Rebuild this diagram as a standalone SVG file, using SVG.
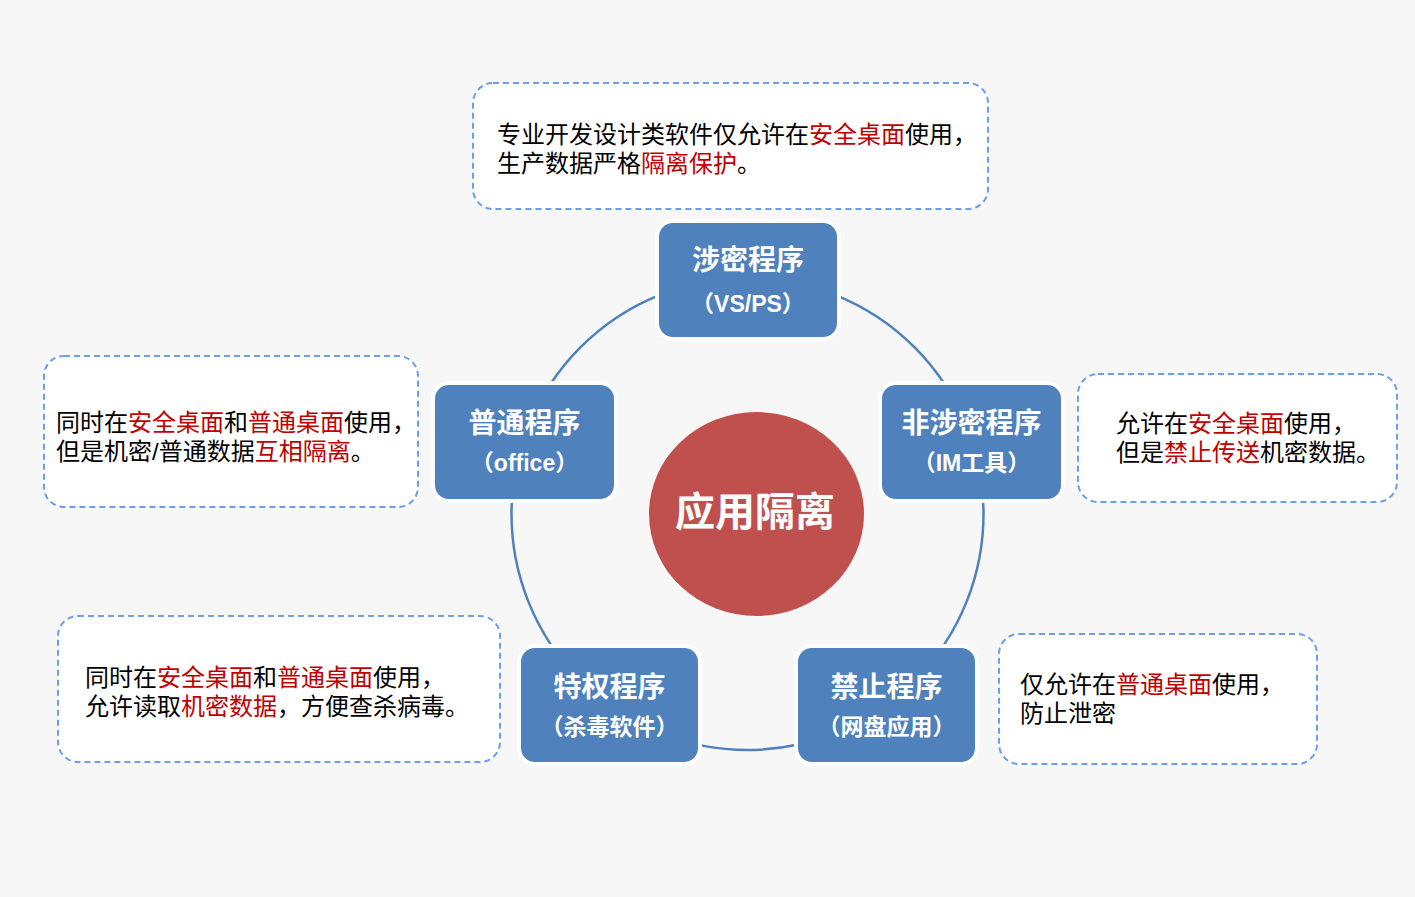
<svg xmlns="http://www.w3.org/2000/svg" width="1415" height="897" viewBox="0 0 1415 897">
  <style>
    .bg { fill: #F7F7F7; }
    .halo { fill: #FFFFFF; }
    .node { fill: #4F81BD; }
    .ttl { font-family: "Liberation Sans", "Noto Sans CJK SC", sans-serif; font-weight: bold; font-size: 28px; fill: #FFFFFF; text-anchor: middle; }
    .sub { font-family: "Liberation Sans", "Noto Sans CJK SC", sans-serif; font-weight: bold; font-size: 23px; fill: #FFFFFF; text-anchor: middle; }
    .call { fill: #FFFFFF; stroke: #6D9EEB; stroke-width: 2; stroke-dasharray: 6 4; }
    .txt { font-family: "Liberation Sans", "Noto Sans CJK SC", sans-serif; font-size: 24px; fill: #000000; }
    .red { fill: #C00000; }
    .ring { fill: none; stroke: #4F81BD; stroke-width: 2.5; }
  </style>
  <rect class="bg" x="0" y="0" width="1415" height="897"/>

  <g id="connectors">
    <circle class="ring" cx="747.5" cy="514" r="236"/>
  </g>

  <g id="center">
    <ellipse cx="756.5" cy="514" rx="107.5" ry="102" fill="#C0504D"/>
    <text x="755" y="526" font-family="Noto Sans CJK SC, sans-serif" font-weight="bold" font-size="40" fill="#FFFFFF" text-anchor="middle">应用隔离</text>
  </g>

  <g id="node-secret">
    <rect class="halo" x="655" y="219" width="186" height="122" rx="18"/>
    <rect class="node" x="659" y="223" width="178" height="114" rx="14"/>
    <text class="ttl" x="748" y="270">涉密程序</text>
    <text class="sub" x="748" y="312">（VS/PS）</text>
  </g>

  <g id="node-normal">
    <rect class="halo" x="431" y="381" width="187" height="122" rx="18"/>
    <rect class="node" x="435" y="385" width="179" height="114" rx="14"/>
    <text class="ttl" x="524.5" y="433">普通程序</text>
    <text class="sub" x="524.5" y="471">（office）</text>
  </g>

  <g id="node-nonsecret">
    <rect class="halo" x="878" y="381" width="187" height="122" rx="18"/>
    <rect class="node" x="882" y="385" width="179" height="114" rx="14"/>
    <text class="ttl" x="971.5" y="433">非涉密程序</text>
    <text class="sub" x="971.5" y="471">（IM工具）</text>
  </g>

  <g id="node-privileged">
    <rect class="halo" x="517" y="644" width="185" height="122" rx="18"/>
    <rect class="node" x="521" y="648" width="177" height="114" rx="14"/>
    <text class="ttl" x="609.5" y="697">特权程序</text>
    <text class="sub" x="609.5" y="735">（杀毒软件）</text>
  </g>

  <g id="node-forbidden">
    <rect class="halo" x="794" y="644" width="185" height="122" rx="18"/>
    <rect class="node" x="798" y="648" width="177" height="114" rx="14"/>
    <text class="ttl" x="886.5" y="697">禁止程序</text>
    <text class="sub" x="886.5" y="735">（网盘应用）</text>
  </g>

  <g id="note-top">
    <rect class="call" x="473" y="83" width="515" height="126" rx="20"/>
    <text class="txt" x="497" y="143">专业开发设计类软件仅允许在<tspan class="red">安全桌面</tspan>使用，</text>
    <text class="txt" x="497" y="172">生产数据严格<tspan class="red">隔离保护</tspan>。</text>
  </g>

  <g id="note-left">
    <rect class="call" x="44" y="356" width="374" height="151" rx="20"/>
    <text class="txt" x="56" y="431">同时在<tspan class="red">安全桌面</tspan>和<tspan class="red">普通桌面</tspan>使用，</text>
    <text class="txt" x="56" y="460">但是机密/普通数据<tspan class="red">互相隔离</tspan>。</text>
  </g>

  <g id="note-right">
    <rect class="call" x="1078" y="374" width="319" height="128" rx="20"/>
    <text class="txt" x="1116" y="432">允许在<tspan class="red">安全桌面</tspan>使用，</text>
    <text class="txt" x="1116" y="461">但是<tspan class="red">禁止传送</tspan>机密数据。</text>
  </g>

  <g id="note-bottom-left">
    <rect class="call" x="58" y="616" width="442" height="146" rx="20"/>
    <text class="txt" x="85" y="686">同时在<tspan class="red">安全桌面</tspan>和<tspan class="red">普通桌面</tspan>使用，</text>
    <text class="txt" x="85" y="715">允许读取<tspan class="red">机密数据</tspan>，方便查杀病毒。</text>
  </g>

  <g id="note-bottom-right">
    <rect class="call" x="999" y="634" width="318" height="130" rx="20"/>
    <text class="txt" x="1020" y="693">仅允许在<tspan class="red">普通桌面</tspan>使用，</text>
    <text class="txt" x="1020" y="722">防止泄密</text>
  </g>
</svg>
